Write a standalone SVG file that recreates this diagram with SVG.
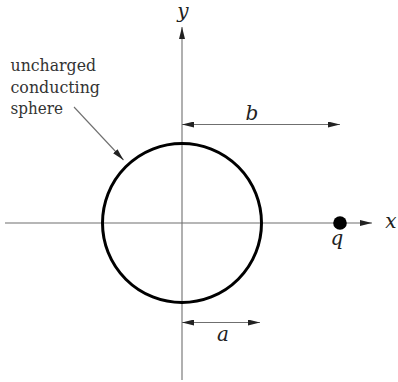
<svg xmlns="http://www.w3.org/2000/svg" width="398" height="382" viewBox="0 0 398 382">
<style>
.ax{stroke:#6f6f6f;stroke-width:1.1;fill:none}
.dim{stroke:#6f6f6f;stroke-width:1.1;fill:none}
.lbl{font-family:"DejaVu Serif","Liberation Serif",serif;font-size:16px;fill:#333}
.math{font-family:"DejaVu Serif","Liberation Serif",serif;font-style:italic;font-size:20px;fill:#222;text-anchor:middle}
</style>
<defs>
<marker id="ah" viewBox="0 0 12 6" refX="12" refY="3" markerWidth="12" markerHeight="6" markerUnits="userSpaceOnUse" orient="auto-start-reverse">
<path d="M0,0 L12,3 L0,6 Z" fill="#222"/>
</marker>
</defs>
<rect width="398" height="382" fill="#fff"/>
<g id="connectors">
<line class="ax" x1="5" y1="223" x2="372" y2="223" marker-end="url(#ah)"/>
<line class="ax" x1="182" y1="380" x2="182" y2="27" marker-end="url(#ah)"/>
<line class="dim" x1="182" y1="124.5" x2="340" y2="124.5" marker-start="url(#ah)" marker-end="url(#ah)"/>
<line class="dim" x1="182" y1="322.5" x2="260" y2="322.5" marker-start="url(#ah)" marker-end="url(#ah)"/>
<line class="dim" x1="74" y1="107" x2="123.5" y2="160" marker-end="url(#ah)"/>
</g>
<g id="sphere">
<circle cx="182" cy="223" r="79.5" fill="none" stroke="#000" stroke-width="3"/>
</g>
<g id="charge">
<circle cx="340" cy="223" r="6.8" fill="#000"/>
<text class="math" x="337" y="245">q</text>
</g>
<g id="axis-labels">
<text class="math" x="391" y="228">x</text>
<text class="math" x="183" y="18">y</text>
</g>
<g id="dim-labels">
<text class="math" x="252" y="120">b</text>
<text class="math" x="223" y="341">a</text>
</g>
<g id="label">
<text class="lbl" x="10.5" y="71" textLength="85.5" lengthAdjust="spacingAndGlyphs">uncharged</text>
<text class="lbl" x="10.5" y="92.7" textLength="89.5" lengthAdjust="spacingAndGlyphs">conducting</text>
<text class="lbl" x="10.5" y="114.3" textLength="52.5" lengthAdjust="spacingAndGlyphs">sphere</text>
</g>
</svg>
